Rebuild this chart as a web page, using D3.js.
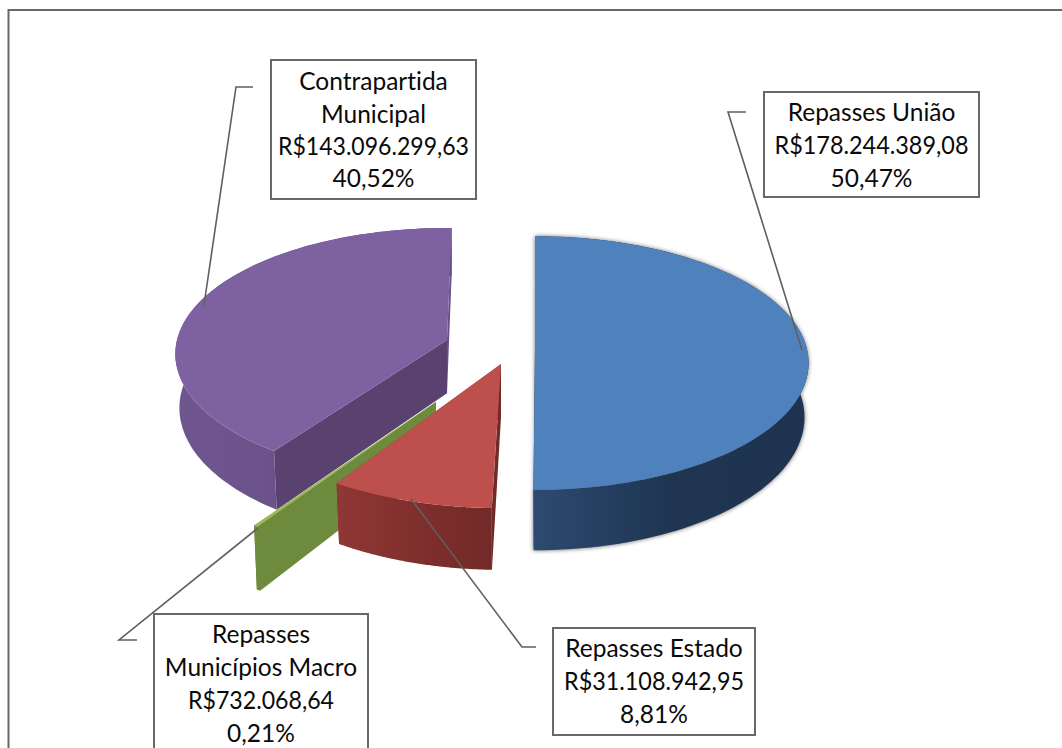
<!DOCTYPE html>
<html>
<head>
<meta charset="utf-8">
<script src="https://cdn.jsdelivr.net/npm/d3@7"></script>
<style>
	html, body { margin: 0; background: #fff; }
	svg { display: block; }
	text { font-family: Lato, "Open Sans", sans-serif; font-size: 24.5px; font-variant-ligatures: none; fill: #0a0a0a; text-anchor: middle; }
</style>
</head>
<body>
<svg id="svg"></svg>
<script>
// data, in pie order (clockwise from 12 o'clock)
const categories = ['Repasses União', 'Repasses Estado', 'Repasses Municípios Macro', 'Contrapartida Municipal']
const values = [178244389.08, 31108942.95, 732068.64, 143096299.63]
const valueLabels = ['R$178.244.389,08', 'R$31.108.942,95', 'R$732.068,64', 'R$143.096.299,63']
const pctLabels = ['50,47%', '8,81%', '0,21%', '40,52%']
const nameLines = [['Repasses União'], ['Repasses Estado'], ['Repasses', 'Municípios Macro'], ['Contrapartida', 'Municipal']]

// colours per slice
const topColors = ['#4f81bd', '#bd504d', '#9bbb59', '#7e61a0']
const rimColors = [['#2d4a70', '#1f3552', '#1d3350'], ['#8f3835', '#802f2d', '#722a28'], ['#6e8a3c', '#6e8a3c', '#6e8a3c'], ['#70568f', '#6a5089', '#654c85']]
const wallColors = ['#1d3350', '#722a28', '#6e8a3c', '#594170']
const backWallColors = ['#1d3350', '#8a3633', '#6e8a3c', '#6a5088']

// 3d layout: where each exploded slice sits, and the small bend the 3d view puts on its edges (degrees)
const centers = [[535, 349], [501, 364], [436, 402], [447, 340]]
const scales = [1.007, 1.03, 1.09, 1]
const nudges = [[0, -1.4], [0, -1], [0, 0], [1.5, 1.1]]
const drawOrder = [3, 2, 1, 0]

// label boxes and leader lines
const boxes = [[764, 92, 215, 105], [553, 628, 202, 107], [154, 614, 214, 150], [271, 60, 205, 139]]
const baselines = [[121, 154, 187], [657, 690, 723], [643, 676, 709, 742], [90, 123, 155, 187]]
// the money lines are squeezed to the source's width, its digits are narrower than Lato's
const valueWidths = [194, 180, 146, 191]
const leaders = [
	[[746, 112], [728, 112], [802, 350]],
	[[536, 647], [522, 647], [411, 499]],
	[[137, 640], [119, 640], [258, 528]],
	[[253, 87], [236, 87], [204, 305]],
]

const width = 1062, height = 748
const R = 270, RY = 124.4, DEPTH = 53.3, PERSP = 0.111, BOTTOM_SHRINK = 0.985

const svg = d3.select('#svg').attr('width', width).attr('height', height)
const defs = svg.append('defs')
defs.append('filter').attr('id', 'soft').attr('x', '-10%').attr('y', '-10%').attr('width', '120%').attr('height', '120%')
	.append('feGaussianBlur').attr('stdDeviation', 2)

// frame, cropped on the right and bottom like the source
svg.append('path')
	.attr('d', d3.line()([[8.5, height + 2], [8.5, 10], [width + 2, 10]]))
	.attr('fill', 'none')
	.attr('stroke', '#686868')
	.attr('stroke-width', 2)

const pie = d3.pie().sort(null).value(d => d)
const arcs = pie(values)
const line = d3.line()

arcs.forEach((a, i) => {
	a.a0 = a.startAngle + nudges[i][0] * Math.PI / 180
	a.a1 = a.endAngle + nudges[i][1] * Math.PI / 180
})

function project(i, angle, level) {
	const u = Math.sin(angle), v = -Math.cos(angle)
	const w = 1 / (1 - PERSP * v)
	const k = scales[i]
	return [
		centers[i][0] + u * R * w * k * (level ? BOTTOM_SHRINK : 1),
		centers[i][1] + v * RY * w * k + level * DEPTH * w * k,
	]
}
function apex(i, level) {
	return [centers[i][0], centers[i][1] + level * DEPTH]
}
function rimPoints(i, level) {
	return d3.range(0, 101).map(s => {
		const a = arcs[i]
		return project(i, a.a0 + (a.a1 - a.a0) * s / 100, level)
	})
}
function topFace(i) {
	return line([apex(i, 0), ...rimPoints(i, 0)]) + 'Z'
}
function bottomFace(i) {
	return line([apex(i, 1), ...rimPoints(i, 1)]) + 'Z'
}
function rimBand(i) {
	return line([...rimPoints(i, 0), ...rimPoints(i, 1).reverse()]) + 'Z'
}
function radialWall(i, angle) {
	return line([apex(i, 0), project(i, angle, 0), project(i, angle, 1), apex(i, 1)]) + 'Z'
}

rimColors.forEach((stops, i) => {
	const xs = rimPoints(i, 0).map(p => p[0])
	const g = defs.append('linearGradient')
		.attr('id', 'rim' + i)
		.attr('gradientUnits', 'userSpaceOnUse')
		.attr('x1', d3.min(xs)).attr('x2', d3.max(xs))
		.attr('y1', 0).attr('y2', 0)
	stops.forEach((c, j) => {
		g.append('stop').attr('offset', j / (stops.length - 1)).attr('stop-color', c)
	})
})

const pieG = svg.append('g')

// only the big blue slice throws a shadow in the source
const shadow = pieG.append('g').attr('filter', 'url(#soft)').attr('fill', '#3c3c3c').attr('opacity', 0.75)
shadow.append('path').attr('d', bottomFace(0))
shadow.append('path').attr('d', rimBand(0))

drawOrder.forEach(i => {
	const g = pieG.append('g')
	g.append('path').attr('d', radialWall(i, arcs[i].a1)).attr('fill', backWallColors[i])
	g.append('path').attr('d', radialWall(i, arcs[i].a0)).attr('fill', i === 0 ? backWallColors[i] : wallColors[i])
	g.append('path').attr('d', rimBand(i)).attr('fill', `url(#rim${i})`)
	g.append('path').attr('d', topFace(i)).attr('fill', topColors[i])
})

// leader lines
svg.append('g').selectAll('path')
	.data(leaders).enter()
	.append('path')
	.attr('d', d => line(d))
	.attr('fill', 'none')
	.attr('stroke', '#5f5f5f')
	.attr('stroke-width', 1.6)

// label boxes
const labels = svg.append('g').selectAll('g')
	.data(categories).enter()
	.append('g')

labels.append('rect')
	.attr('x', (d, i) => boxes[i][0])
	.attr('y', (d, i) => boxes[i][1])
	.attr('width', (d, i) => boxes[i][2])
	.attr('height', (d, i) => boxes[i][3])
	.attr('fill', '#fff')
	.attr('stroke', '#686868')
	.attr('stroke-width', 2)

labels.each(function (d, i) {
	const lines = [...nameLines[i], valueLabels[i], pctLabels[i]]
	d3.select(this).selectAll('text')
		.data(lines).enter()
		.append('text')
		.attr('x', boxes[i][0] + boxes[i][2] / 2)
		.attr('y', (t, j) => baselines[i][j])
		.attr('textLength', t => t === valueLabels[i] ? valueWidths[i] : null)
		.attr('lengthAdjust', t => t === valueLabels[i] ? 'spacingAndGlyphs' : null)
		.text(t => t)
})
</script>
</body>
</html>
